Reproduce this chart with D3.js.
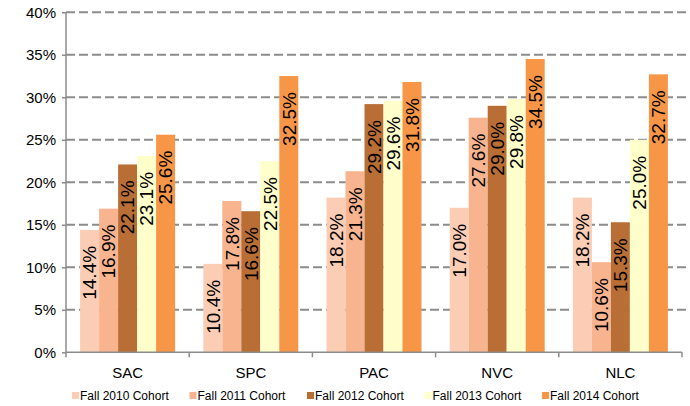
<!DOCTYPE html>
<html><head><meta charset="utf-8">
<script src="https://cdn.jsdelivr.net/npm/d3@7"></script>
<style>body{margin:0;background:#fff}svg{display:block;font-family:"Liberation Sans",Arial,sans-serif}</style>
</head><body><svg id="c" width="690" height="406"></svg>
<script>
const categories = ["SAC","SPC","PAC","NVC","NLC"];
const seriesNames = ["Fall 2010 Cohort","Fall 2011 Cohort","Fall 2012 Cohort","Fall 2013 Cohort","Fall 2014 Cohort"];
const fall2010 = [14.4,10.4,18.2,17.0,18.2];
const fall2011 = [16.9,17.8,21.3,27.6,10.6];
const fall2012 = [22.1,16.6,29.2,29.0,15.3];
const fall2013 = [23.1,22.5,29.6,29.8,25.0];
const fall2014 = [25.6,32.5,31.8,34.5,32.7];
const yTicks = [0,5,10,15,20,25,30,35,40];
const colors = ["#FBCDB5","#F8B48E","#B86E35","#FFFFCC","#F79646"];
const series = [fall2010,fall2011,fall2012,fall2013,fall2014];

const svg = d3.select("#c");
const L=66, R=682, T=12.3, B=352.3;
const x0 = d3.scaleBand().domain(categories).range([L,R]).paddingInner(0).paddingOuter(0);
const inner = 95;
const x1 = d3.scaleBand().domain(d3.range(5)).range([(x0.bandwidth()-inner)/2,(x0.bandwidth()+inner)/2]);
const y = d3.scaleLinear().domain([0,40]).range([B,T]);

// gridlines
svg.append("g").selectAll("line").data(yTicks.filter(d=>d>0)).join("line")
  .attr("x1",L).attr("x2",R+4).attr("y1",d=>y(d)).attr("y2",d=>y(d))
  .attr("stroke","#8c8c8c").attr("stroke-width",2).attr("stroke-dasharray","9,4");

// bars
const g = svg.append("g");
categories.forEach((c,ci)=>{
  series.forEach((s,si)=>{
    const v=s[ci];
    g.append("rect").attr("x",x0(c)+x1(si)).attr("width",x1.bandwidth())
      .attr("y",y(v)).attr("height",B-y(v)).attr("fill",colors[si]);
  });
});
// labels
categories.forEach((c,ci)=>{
  series.forEach((s,si)=>{
    const v=s[ci];
    const cx=x0(c)+x1(si)+x1.bandwidth()/2, ty=y(v)+16;
    g.append("text").attr("transform",`translate(${cx},${ty}) rotate(-90)`)
      .attr("text-anchor","end").attr("dy","0.36em").attr("font-size",19).attr("fill","#000")
      .text(v.toFixed(1)+"%");
  });
});

// y axis
const ya = svg.append("g").attr("transform",`translate(${L},0)`)
  .call(d3.axisLeft(y).tickValues(yTicks).tickFormat(d=>d+"%").tickSize(4).tickPadding(6));
ya.select(".domain").attr("stroke","#8c8c8c").attr("stroke-width",1.5).attr("d",`M0,${T}V${B}`);
ya.selectAll(".tick line").attr("stroke","#8c8c8c").attr("stroke-width",1.5);
ya.selectAll("text").attr("font-size",15).attr("fill","#000").attr("font-family","Liberation Sans, Arial, sans-serif");

// x axis
const xa = svg.append("g").attr("transform",`translate(0,${B})`)
  .call(d3.axisBottom(x0).tickSize(0).tickPadding(15));
xa.select(".domain").attr("stroke","#8c8c8c").attr("stroke-width",1.5).attr("d",`M${L},0H${R}`);
xa.selectAll("text").attr("font-size",15).attr("fill","#000").attr("font-family","Liberation Sans, Arial, sans-serif");
const bounds = categories.map(c=>x0(c)).concat([R]);
svg.append("g").selectAll("line").data(bounds).join("line")
  .attr("x1",d=>d).attr("x2",d=>d).attr("y1",B).attr("y2",B+5)
  .attr("stroke","#8c8c8c").attr("stroke-width",1.5);

// legend
const lg = svg.append("g");
const lx = d3.scaleLinear().domain([0,4]).range([72,542]);
seriesNames.forEach((n,i)=>{
  lg.append("rect").attr("x",lx(i)).attr("y",392).attr("width",7).attr("height",7).attr("fill",colors[i]);
  lg.append("text").attr("x",lx(i)+8).attr("y",400).attr("font-size",12).attr("fill","#000").text(n);
});
</script></body></html>
